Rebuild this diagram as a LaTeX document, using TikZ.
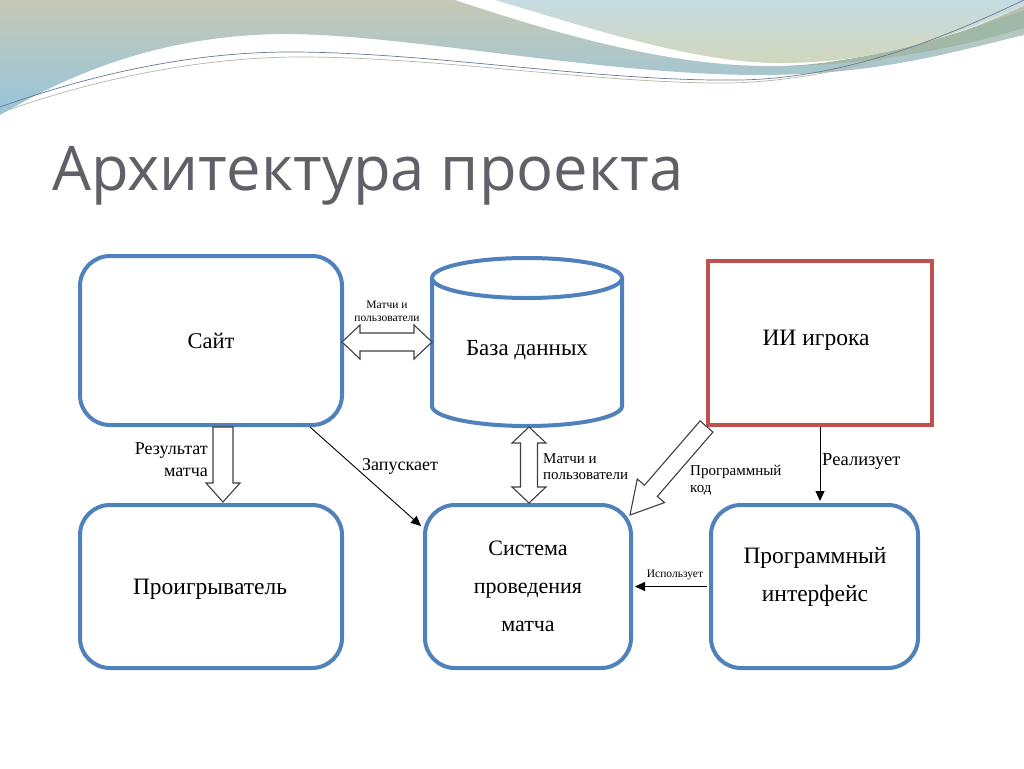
\documentclass[tikz,border=0pt]{standalone}
\usepackage{fontspec}
\setmainfont{Liberation Serif}
\newfontfamily\titlefont{Open Sans}
\usetikzlibrary{arrows.meta}
\definecolor{boxblue}{RGB}{79,129,189}
\definecolor{boxred}{RGB}{192,80,77}
\definecolor{titlegray}{RGB}{96,96,104}
\definecolor{arrowgray}{RGB}{64,64,64}
\definecolor{bgAtop}{RGB}{197,200,181}
\definecolor{bgAbot}{RGB}{150,197,221}
\definecolor{bgBtop}{RGB}{198,219,228}
\definecolor{bgBbot}{RGB}{210,215,188}
\definecolor{bandgreen}{RGB}{160,184,168}
\definecolor{lineone}{RGB}{104,122,144}
\definecolor{linetwo}{RGB}{180,182,165}
\begin{document}
\begin{tikzpicture}[x=1pt,y=-1pt,
  bluebox/.style={draw=boxblue, line width=4pt, rounded corners=30pt, fill=white},
  redbox/.style={draw=boxred, line width=4pt, fill=white},
  boxtext/.style={font=\fontsize{23.5}{38}\selectfont, align=center},
  lbl/.style={inner sep=0pt},
  thinarrow/.style={-{Triangle[length=10pt,width=9pt]}, line width=0.9pt, black},
  blockarrow/.style={draw=arrowgray, line width=1.1pt, fill=white, line join=miter}
]
\useasboundingbox (0,0) rectangle (1024,768);
\fill[white] (0,0) rectangle (1024,768);

% background decoration
\shade[top color=bgAtop, bottom color=bgAbot]
  (0,0) -- (0,115) .. controls (60,80) and (150,36) .. (280,34)
  .. controls (400,33) and (600,75) .. (760,75)
  .. controls (880,75) and (960,50) .. (1024,35) -- (1024,0) -- cycle;
\fill[white] (455,0) .. controls (540,28) and (660,66) .. (770,66)
  .. controls (880,66) and (960,35) .. (1024,5) -- (1024,0) -- cycle;
\fill[bandgreen] (790,66) .. controls (880,60) and (970,30) .. (1024,10)
  -- (1024,28) .. controls (970,45) and (880,64) .. (790,66) -- cycle;
\shade[top color=bgBtop, bottom color=bgBbot]
  (495,0) .. controls (580,25) and (690,62) .. (775,63)
  .. controls (880,64) and (960,34) .. (1024,5) -- (1024,0) -- cycle;
\draw[lineone, line width=0.7pt] (0,107) .. controls (90,75) and (190,52) .. (290,52)
  .. controls (430,52) and (600,82) .. (740,80)
  .. controls (850,78) and (950,35) .. (1024,0);
\draw[linetwo, line width=0.7pt] (0,113) .. controls (90,80) and (200,57) .. (300,57)
  .. controls (440,57) and (600,84) .. (730,83)
  .. controls (850,80) and (950,38) .. (1024,8);

% title
\node[font=\titlefont\fontsize{61.5}{70}\selectfont, text=titlegray, anchor=base west, inner sep=0pt]
  (title) at (52,190) {Архитектура проекта};

% boxes
\node[bluebox, minimum width=262pt, minimum height=169pt, boxtext, font=\fontsize{22.5}{38}\selectfont] (site) at (211,340.5) {Сайт};
\node[bluebox, minimum width=262pt, minimum height=163pt] (player) at (211,586.5) {};
\node[boxtext] (playertext) at (210,589) {Проигрыватель};
\node[bluebox, minimum width=206pt, minimum height=163pt, boxtext, font=\fontsize{22}{38}\selectfont] (match) at (528,586.5) {Система\\проведения\\матча};
\node[bluebox, minimum width=207pt, minimum height=163pt] (api) at (814.5,586.5) {};
\node[boxtext] (apitext) at (815,577) {Программный\\интерфейс};
\node[redbox, minimum width=224pt, minimum height=164pt, boxtext] (ai) at (820,343) {};
\node[boxtext] (aitext) at (816,340) {ИИ игрока};

% database cylinder
\draw[draw=boxblue, line width=4pt, fill=white] (432,278) -- (432,406)
  .. controls (432,417.05) and (474.5,426) .. (527,426)
  .. controls (579.5,426) and (622,417.05) .. (622,406) -- (622,278);
\draw[boxblue, line width=4pt, fill=white] (527,278) ellipse [x radius=95pt, y radius=20pt];
\node[boxtext, font=\fontsize{23}{38}\selectfont] (dbtext) at (527,350) {База данных};

% block arrows
\draw[blockarrow] (342,342) -- (360,325) -- (360,333) -- (414,333) -- (414,325) -- (432,342)
  -- (414,359) -- (414,351) -- (360,351) -- (360,359) -- cycle;
\draw[blockarrow] (529,427) -- (546,443) -- (537.5,443) -- (537.5,487) -- (546,487) -- (529,503)
  -- (512,487) -- (520.5,487) -- (520.5,443) -- (512,443) -- cycle;
\draw[blockarrow] (213,427) -- (233,427) -- (233,483) -- (240,483) -- (223,502) -- (206,483)
  -- (213,483) -- cycle;
\draw[blockarrow] (700.1,420.9) -- (644.5,485.2) -- (637.3,479.0) -- (630,515) -- (664.5,502.6)
  -- (657.3,496.4) -- (712.9,432.1) -- cycle;

% thin arrows
\coordinate (siteexit) at (310,427);
\coordinate (matchentry) at (421,526);
\draw[thinarrow] (siteexit) -- (matchentry);
\draw[thinarrow, shorten >=2pt] (ai.south) -- (ai.south |- api.north);
\draw[thinarrow, shorten >=2pt, shorten <=2pt] (api.west) -- (match.east);

% labels
\node[lbl, font=\fontsize{11.5}{13.3}\selectfont, align=center] (lblmu1) at (387,311) {Матчи и\\пользователи};
\node[lbl, font=\fontsize{18}{22}\selectfont, align=right, anchor=east] (lblres) at (208,460) {Результат\\матча};
\node[lbl, font=\fontsize{18}{18}\selectfont, anchor=base west] (lblrun) at (362,470) {Запускает};
\node[lbl, font=\fontsize{15}{16.3}\selectfont, align=left, anchor=west] (lblmu2) at (543,467) {Матчи и\\пользователи};
\node[lbl, font=\fontsize{15}{16.7}\selectfont, align=left, anchor=west] (lblcode) at (690,480) {Программный\\код};
\node[lbl, font=\fontsize{18.5}{18}\selectfont, anchor=base west] (lblimpl) at (822,465) {Реализует};
\node[lbl, font=\fontsize{11.5}{13}\selectfont, anchor=base] (lbluse) at (675,577) {Использует};
\end{tikzpicture}
\end{document}
